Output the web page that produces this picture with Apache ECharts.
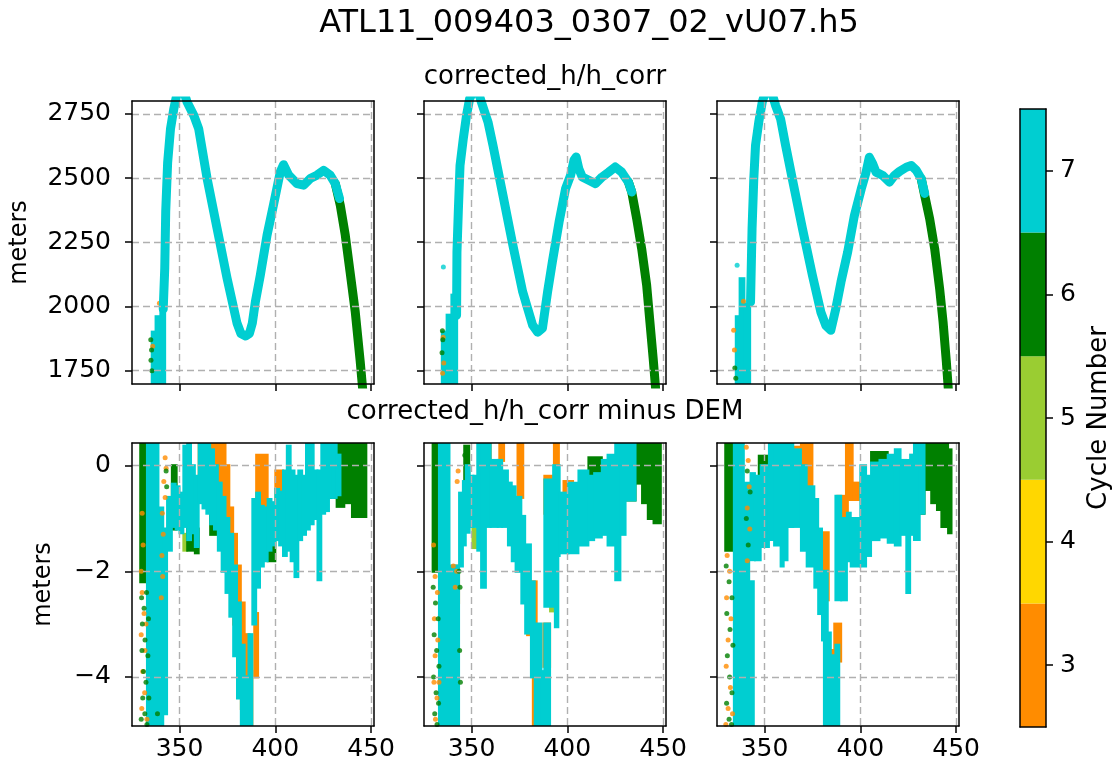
<!DOCTYPE html>
<html><head><meta charset="utf-8">
<script src="https://cdn.jsdelivr.net/npm/echarts@6.0.0/dist/echarts.min.js"></script>
<style>html,body{margin:0;padding:0;background:#fff}#c{width:1117px;height:772px}</style>
</head><body><div id="c"></div><script>
// ---------------- text & ticks ----------------
const figTitle = 'ATL11_009403_0307_02_vU07.h5';
const rowTitles = ['corrected_h/h_corr', 'corrected_h/h_corr minus DEM'];
const yLabel = 'meters';
const cbarLabel = 'Cycle Number';
const cycles = [3, 4, 5, 6, 7];
const xTicks = [350, 400, 450];
const hTicks = [1750, 2000, 2250, 2500, 2750];
const dTicks = [-4, -2, 0];

// ---------------- top row: corrected_h/h_corr (x km, h m) ----------------
const hTrace1C7 = [[341.5,1990],[342.3,2150],[342.8,2370],[343.8,2560],[345.3,2692],[347,2769],[348.6,2825],[350.5,2850],[352.5,2830],[354,2795],[357.5,2743],[360,2692],[364.4,2498],[369.6,2304],[374.8,2110],[380,1935],[382,1895],[384.5,1885],[386.5,1895],[388,1935],[389.6,2019],[392.2,2123],[395.7,2278],[399,2394],[402.6,2524],[404.3,2552],[407,2511],[411.3,2478],[414.8,2472],[418.2,2498],[421.7,2511],[425.2,2530],[428.6,2511],[431.3,2478],[433.5,2420]];
const hTrace1C6 = [[431.3,2478],[433.9,2394],[436.5,2278],[439,2135],[441.7,1980],[444.3,1786],[445.8,1660]];
const hBand1C7 = [[335.5,337.5,1690,1900],[337.5,340,1690,1960],[340,342.5,1690,2010]];
const hDots1C6 = [[335,1870],[335.4,1830],[335.1,1790],[335.6,1750]];
const hDots1C3 = [[339.5,2012],[341,2008],[336,1845]];

const hTrace2C7 = [[342.2,1966],[342.4,2212],[343.1,2368],[344,2549],[345.7,2653],[347.4,2744],[349,2808],[351.5,2850],[353.5,2835],[355.2,2795],[358.6,2718],[361.2,2627],[366.4,2433],[371.6,2238],[376.7,2057],[381.9,1927],[384.5,1900],[387,1915],[389.7,2057],[392.2,2174],[395.7,2329],[399.1,2459],[401.7,2510],[403.5,2570],[404.6,2582],[406,2536],[407.8,2504],[411.2,2491],[414.7,2478],[418.1,2504],[421.6,2523],[425,2543],[428.4,2523],[431.9,2484],[433.6,2446]];
const hTrace2C6 = [[431.9,2484],[433.6,2446],[436.2,2342],[438.8,2225],[441.4,2083],[443.1,1940],[444.8,1798],[446.3,1660]];
const hBand2C7 = [[334.5,337,1690,1900],[337,339.5,1690,1966],[339.5,341,1690,2044],[341,342.5,1690,1990]];
const hDots2C7 = [[335.3,2154]];
const hDots2C6 = [[334.8,1905],[335,1870],[334.6,1820]];
const hDots2C3 = [[335.2,1880],[335.5,1780],[334.9,1740]];

const hTrace3C7 = [[342.7,2017],[343.5,2303],[344.4,2497],[345.3,2627],[347,2718],[348.8,2795],[351,2850],[353.5,2840],[355.8,2782],[358.4,2730],[361,2627],[364.5,2497],[369.8,2303],[375,2121],[379.4,1978],[382,1926],[384.6,1907],[387.2,1991],[389.9,2095],[393.4,2212],[396.9,2354],[400.5,2458],[403,2523],[404.7,2581],[406.5,2555],[408.2,2523],[411.7,2510],[415.2,2484],[417.8,2510],[420.5,2526],[424,2542],[426.6,2549],[429.2,2530],[431.8,2497],[433.6,2440]];
const hTrace3C6 = [[431.8,2497],[433.6,2432],[436.2,2341],[438.8,2225],[441.4,2069],[443.2,1939],[444.9,1784],[446.1,1660]];
const hBand3C7 = [[335,337,1690,1960],[337,339.5,1690,2108],[339.5,342.5,1690,2010]];
const hDots3C7 = [[335.7,2160]];
const hDots3C6 = [[334.5,1760],[335,1720]];
const hDots3C3 = [[333.9,1907],[339,2020],[334.3,1830]];

// ---------------- bottom row: minus DEM, rows [x0, x1, low, high] ----------------
const dBand1C7 = [[333,339,-5.2,0.6],[339,341.5,-5.2,-0.8],[341.5,343.5,-4.7,-1.2],[343.5,346,-1.6,-0.6],[346,348,-1.15,-0.35],[348,350,-1.2,-0.4],[350,352,-1.27,-0.52],[352,354,-1.15,0.37],[354,356,-1.4,0.6],[356,358,-1.27,0],[358,360,-1.53,-0.2],[360,362,-0.7,0.6],[362,364,-0.8,0.6],[364,366,-0.9,0.6],[366,368,-1.1,0.3],[368,370,-1.2,0],[370,372,-1.6,-0.33],[372,374,-2.0,-0.6],[374,376,-2.4,-1.0],[376,378,-2.85,-1.3],[378,380,-3.6,-1.9],[380,382,-4.4,-2.6],[382,384,-5.2,-3.4],[384,386,-5.2,-4.0],[386,388,-5.2,-3.2],[388,390,-3.0,-0.64],[390,392,-2.3,-0.52],[392,394,-1.9,-0.77],[394,396,-1.8,-0.8],[396,398,-1.6,-0.64],[398,400,-1.5,-0.7],[400,402,-1.4,-0.45],[402,404,-1.5,-0.5],[404,406,-1.7,-0.1],[406,408,-1.6,0.37],[408,410,-1.8,-0.1],[410,412,-2.1,-0.2],[412,414,-1.4,-0.1],[414,416,-1.3,-0.2],[416,418,-1.2,0.6],[418,420,-1.1,0.6],[420,422,-1.0,-0.1],[422,424,-2.16,-0.1],[424,426,-0.9,0.6],[426,428,-0.85,0.6],[428,430,-0.6,0.6],[430,432,-0.6,0.6],[432,434,-0.55,0.2]];
const dBand1C6 = [[329.5,333.5,-2.2,0.6],[346,348.5,-1.2,0.0],[354,358,-1.6,-1.0],[358,360,-1.65,-1.2],[366,370,-1.3,-0.9],[396,400,-1.8,-1.2],[428,432,-0.6,0.6],[432,436,-0.77,0.6],[436,440,-0.7,0.6],[440,444,-0.96,0.6],[444,447.5,-0.96,0.6]];
const dBand1C5 = [[352,354,-1.6,-1.3]];
const dBand1C3 = [[360,364,-0.3,0.6],[364,370,-0.6,0.6],[370,374,-1.0,0.6],[374,376,-1.6,0.0],[376,378,-2.2,-0.8],[378,380,-3.0,-1.3],[380,382,-3.8,-1.9],[382,384,-4.6,-2.6],[384,386.5,-5.2,-3.2],[386.5,388,-5.2,-3.9],[389,391,-4.0,-2.8],[390,396,-1.5,0.2],[400,404,-0.9,-0.1]];
const dDots1C6 = [[330.2,-2.5],[331.5,-2.7],[332.8,-2.4],[330.6,-3.0],[332,-3.3],[333.5,-3.6],[330.4,-3.5],[331.2,-3.9],[332.5,-4.1],[330.8,-4.4],[331.9,-4.7],[333,-4.9],[330,-4.8],[334,-4.4],[333.8,-2.9],[343.3,-0.4],[343,-0.1],[338.5,-4.7]];
const dDots1C3 = [[342.5,0.15],[343,-0.05],[341.8,-0.3],[342.5,-0.6],[341,-0.9],[341.5,-1.3],[340.8,-1.7],[341.2,-2.1],[340.5,-2.5],[330.5,-2.4],[331.5,-2.8],[330,-3.2],[332,-3.5],[330.8,-3.9],[331.8,-4.3],[330.3,-4.6],[333,-4.8],[332.5,-3.0],[330,-2.0],[331,-1.5],[330.5,-0.9]];

const dBand2C7 = [[333,338.5,-5.2,0.6],[338.5,343.5,-5.2,-1.9],[343.5,345.5,-1.9,-0.52],[345.5,347,-1.5,-0.3],[347,349,-1.26,0],[349,351,-1.15,-0.2],[351,353,-1.15,-0.2],[353,355,-1.6,0.6],[355,357.5,-2.3,0.6],[357.5,360,-1.15,0.6],[360,363.7,-1.15,0.1],[363.7,366,-1.15,0.1],[366,369,-1.15,-0.1],[369,371,-1.5,-0.33],[371,373,-1.8,-0.4],[373,376,-2.0,-0.6],[376,378,-2.6,-0.96],[378,381,-3.17,-1.5],[381,383,-4.0,-2.2],[383,386.5,-5.2,-3.0],[386.5,388,-5.2,-3.9],[388,391,-5.2,-3.0],[388,392.6,-2.66,-0.27],[392.6,396,-1.7,0],[393.5,395.3,-3.05,-1.0],[396,400.5,-1.65,-0.52],[400.5,405.8,-1.65,-0.33],[405.8,411,-1.5,-0.1],[411,414,-1.4,-0.2],[414,418,-1.35,-0.15],[418,421,-1.3,0.1],[421,425,-1.5,0.2],[425,427.7,-2.16,0.6],[427.7,430.4,-1.3,0.6],[430.4,435.6,-0.65,0.6]];
const dBand2C6 = [[329.7,333.2,-2.0,0.6],[346.2,348.8,-0.5,0.37],[411,418,-0.2,0.15],[430.4,435.6,-0.65,0.6],[435.6,439,-0.33,0.6],[439,442,-0.7,0.6],[442,445,-1.0,0.6],[445,448.8,-1.08,0.6]];
const dBand2C5 = [[350.5,353,-1.55,-1.2],[391,393,-2.75,-2.6]];
const dBand2C3 = [[340,343.5,-2.6,-1.9],[357.5,360,-0.3,0.6],[364.5,367,0.1,0.6],[374,377,-0.6,0.6],[379,384,-3.2,-2.2],[382,386,-5.0,-3.2],[387.5,391,-3.8,-3.0],[388,392.6,-0.9,-0.2],[393,395.6,-0.1,0.6],[398,403,-0.65,-0.3]];
const dDots2C6 = [[330,-2.3],[331.2,-2.6],[332.6,-2.9],[330.5,-3.2],[331.8,-3.5],[333,-3.8],[330.2,-4.0],[331.5,-4.3],[332.8,-4.5],[330.8,-4.7],[332,-4.9],[343.5,-2.0],[344,-2.3],[343.8,-3.5],[344.2,-4.1],[346.5,0.2]];
const dDots2C3 = [[330.2,-1.5],[331,-2.1],[332.2,-2.4],[330.6,-2.9],[332.4,-3.3],[331,-3.6],[330.4,-4.1],[332,-4.4],[331.2,-4.8],[333,-4.1],[340.5,-1.9],[341.5,-2.3],[342.2,-2.0],[342.5,-0.3],[343,-0.1]];

const dBand3C7 = [[334,339.2,-5.2,0.6],[339.2,344.4,-5.2,-2.2],[339.2,342,-2.2,-0.33],[342.7,345,-1.78,-0.15],[345,348,-1.78,-0.2],[348,350,-1.53,0],[350,352.3,-1.53,0],[352.3,355,-1.4,0.6],[355,358.4,-1.5,0.6],[358.4,360,-1.9,0.6],[360,362,-1.78,0.6],[362,365,-1.15,0.6],[365,369,-1.15,0.3],[369,372,-1.6,0],[372,376,-1.9,-0.4],[376,378,-2.3,-0.64],[378,380,-2.8,-1.2],[380,383,-3.3,-2.0],[381,384.6,-5.2,-3.17],[384.6,387,-5.2,-3.6],[387,389,-5.2,-3.4],[387,390,-2.54,-0.58],[390,393,-2.54,-1.0],[393,395,-1.8,-0.9],[395,400,-1.9,-1.0],[400,403,-1.9,0],[403,405.6,-1.7,-0.2],[405.6,410,-1.4,0.05],[410,414.3,-1.35,0.1],[414.3,418,-1.45,0.2],[418,421,-1.5,0.3],[421,424,-1.3,0.1],[424,426,-2.4,0.1],[426,428,-1.3,0.2],[428,431,-1.4,0.4],[431,433.5,-0.9,0.6]];
const dBand3C6 = [[329.5,334,-1.6,0.6],[347,352,-0.15,0.18],[405.6,414.3,0.05,0.25],[431,433.5,-0.9,0.6],[433.5,437,-0.45,0.6],[437,440,-0.7,0.6],[440,442.3,-0.83,0.6],[442.3,445.8,-1.15,0.6],[445.8,447.6,-1.27,0.3]];
const dBand3C3 = [[365,374,-0.3,0.35],[369,375,-0.64,0.4],[379,383.5,-2.54,-1.27],[384.5,387,-4.4,-3.5],[386.4,390,-3.7,-3.0],[388,393.5,-1.15,-0.58],[392.5,396,-0.64,0.43],[396.5,402,-0.64,-0.33]];
const dDots3C6 = [[330,-1.9],[331.5,-2.2],[333,-2.5],[330.3,-2.8],[332,-3.1],[333.5,-3.4],[330.6,-3.6],[331.8,-4.0],[333,-4.3],[330.2,-4.5],[331.5,-4.8],[332.8,-4.9],[341,-0.1],[342.5,-0.5],[340.5,-1.0],[341.5,-1.5]];
const dDots3C3 = [[330.5,-1.7],[331.8,-2.0],[330.2,-2.5],[332.5,-2.9],[331,-3.3],[330,-3.8],[332.2,-4.2],[331,-4.6],[333.3,-4.7],[329.8,-4.9],[340.5,0.35],[341.5,0.1],[342,-0.4],[341,-0.8],[342.3,-1.2],[341,-1.8]];

// ---------------- styling (not data) ----------------
const FONT = 'DejaVu Sans';
const cycleColor = {3: '#ff8c00', 4: '#ffd700', 5: '#9acd32', 6: '#008000', 7: '#00ced1'};
const xRange = [325.2, 451.5];
const hRange = [1698, 2800];
const dRange = [-4.93, 0.43];
const gridLefts = [132, 424, 717];
const gridTops = [101, 443];
const GW = 242, GH = 283;
const TICK_FS = 25;
const fmt = v => (v < 0 ? '\u2212' + Math.abs(v) : String(v));

const panels = [
  {lines: {7: hTrace1C7, 6: hTrace1C6}, bands: {7: hBand1C7}, dots: {3: hDots1C3, 6: hDots1C6}},
  {lines: {7: hTrace2C7, 6: hTrace2C6}, bands: {7: hBand2C7}, dots: {3: hDots2C3, 6: hDots2C6, 7: hDots2C7}},
  {lines: {7: hTrace3C7, 6: hTrace3C6}, bands: {7: hBand3C7}, dots: {3: hDots3C3, 6: hDots3C6, 7: hDots3C7}},
  {lines: {}, bands: {3: dBand1C3, 5: dBand1C5, 6: dBand1C6, 7: dBand1C7}, dots: {3: dDots1C3, 6: dDots1C6}},
  {lines: {}, bands: {3: dBand2C3, 5: dBand2C5, 6: dBand2C6, 7: dBand2C7}, dots: {3: dDots2C3, 6: dDots2C6}},
  {lines: {}, bands: {3: dBand3C3, 6: dBand3C6, 7: dBand3C7}, dots: {3: dDots3C3, 6: dDots3C6}}
];

const grid = [], xAxis = [], yAxis = [], series = [];
const lineCol = '#000';
const splitLine = {show: true, lineStyle: {color: '#b0b0b0', width: 1.4, type: [7, 4]}};
const noAxisDeco = {axisTick: {show: false}, axisLabel: {show: false}, splitLine: {show: false}};
const spine = {show: true, onZero: false, lineStyle: {color: lineCol, width: 1.5}};

for (let i = 0; i < 6; i++) {
  const r = Math.floor(i / 3), c = i % 3;
  grid.push({left: gridLefts[c], top: gridTops[r], width: GW, height: GH, containLabel: false});
}
// main axes
for (let i = 0; i < 6; i++) {
  const r = Math.floor(i / 3), c = i % 3;
  xAxis.push({gridIndex: i, type: 'value', position: 'bottom', min: xRange[0], max: xRange[1], z: 5,
    axisLine: spine,
    axisTick: {show: true, customValues: xTicks, length: 7, lineStyle: {color: lineCol, width: 1.5}},
    axisLabel: {show: r === 1, customValues: xTicks, fontFamily: FONT, fontSize: TICK_FS, color: '#000', margin: 11},
    splitLine: splitLine});
  yAxis.push({gridIndex: i, type: 'value', position: 'left', min: r === 0 ? hRange[0] : dRange[0], max: r === 0 ? hRange[1] : dRange[1], z: 5,
    axisLine: spine,
    axisTick: {show: true, customValues: r === 0 ? hTicks : dTicks, length: 7, lineStyle: {color: lineCol, width: 1.5}},
    axisLabel: {show: c === 0, customValues: r === 0 ? hTicks : dTicks, formatter: fmt, fontFamily: FONT, fontSize: TICK_FS, color: '#000', margin: 21},
    splitLine: splitLine,
    name: c === 0 ? yLabel : '', nameLocation: 'middle', nameRotate: 90, nameGap: r === 0 ? 100 : 76,
    nameTextStyle: {fontFamily: FONT, fontSize: 24, color: '#000'}});
}
// frame axes (top / right spines)
for (let i = 0; i < 6; i++) {
  const r = Math.floor(i / 3);
  xAxis.push(Object.assign({gridIndex: i, type: 'value', position: 'top', min: xRange[0], max: xRange[1], z: 5, axisLine: spine}, noAxisDeco));
  yAxis.push(Object.assign({gridIndex: i, type: 'value', position: 'right', min: r === 0 ? hRange[0] : dRange[0], max: r === 0 ? hRange[1] : dRange[1], z: 5, axisLine: spine}, noAxisDeco));
}
// colorbar grid (index 6)
grid.push({left: 1020, top: 109, width: 26, height: 618});
xAxis.push(Object.assign({gridIndex: 6, type: 'value', min: 0, max: 1, position: 'bottom', z: 5, axisLine: spine}, noAxisDeco));
xAxis.push(Object.assign({gridIndex: 6, type: 'value', min: 0, max: 1, position: 'top', z: 5, axisLine: spine}, noAxisDeco));
yAxis.push({gridIndex: 6, type: 'value', min: cycles[0] - 0.5, max: cycles[cycles.length - 1] + 0.5, position: 'right', z: 5,
  axisLine: spine,
  axisTick: {show: true, customValues: cycles, length: 7, lineStyle: {color: lineCol, width: 1.5}},
  axisLabel: {show: true, customValues: cycles, fontFamily: FONT, fontSize: TICK_FS, color: '#000', margin: 14},
  splitLine: {show: false},
  name: cbarLabel, nameLocation: 'middle', nameRotate: 90, nameGap: 40,
  nameTextStyle: {fontFamily: FONT, fontSize: 26, color: '#000'}});
yAxis.push(Object.assign({gridIndex: 6, type: 'value', min: cycles[0] - 0.5, max: cycles[cycles.length - 1] + 0.5, position: 'left', z: 5, axisLine: spine}, noAxisDeco));

function bandSeries(i, rows, color) {
  return {type: 'custom', xAxisIndex: i, yAxisIndex: i, data: rows, clip: true, silent: true, animation: false,
    encode: {x: [0, 1], y: [2, 3]},
    renderItem: function (params, api) {
      const a = api.coord([api.value(0), api.value(3)]);
      const b = api.coord([api.value(1), api.value(2)]);
      return {type: 'rect', shape: {x: a[0] - 1, y: a[1] - 1.5, width: b[0] - a[0] + 2, height: b[1] - a[1] + 3},
        style: {fill: color, stroke: null, lineWidth: 0}};
    }};
}

panels.forEach((p, i) => {
  cycles.forEach(cy => {
    const col = cycleColor[cy];
    if (p.bands[cy]) series.push(bandSeries(i, p.bands[cy], col));
    if (p.lines[cy]) series.push({type: 'line', xAxisIndex: i, yAxisIndex: i, data: p.lines[cy], symbol: 'none', clip: true, silent: true, animation: false,
      lineStyle: {color: col, width: 9, cap: 'round', join: 'round'}});
    if (p.dots[cy]) series.push({type: 'scatter', xAxisIndex: i, yAxisIndex: i, data: p.dots[cy], symbol: 'circle', symbolSize: 5, clip: true, silent: true, animation: false,
      itemStyle: {color: col}});
  });
});

// colorbar blocks
series.push({type: 'custom', xAxisIndex: 12, yAxisIndex: 12, data: cycles, silent: true, animation: false,
  encode: {y: 0},
  renderItem: function (params, api) {
    const cy = api.value(0);
    const a = api.coord([0, cy + 0.5]);
    const b = api.coord([1, cy - 0.5]);
    return {type: 'rect', shape: {x: a[0], y: a[1], width: b[0] - a[0], height: b[1] - a[1]}, style: {fill: cycleColor[cy], stroke: null}};
  }});

const option = {
  backgroundColor: '#fff',
  animation: false,
  title: [
    {text: figTitle, left: 589, top: 8, textAlign: 'center', padding: 0, textStyle: {fontFamily: FONT, fontSize: 32, fontWeight: 'normal', color: '#000'}},
    {text: rowTitles[0], left: 545, top: 64, textAlign: 'center', padding: 0, textStyle: {fontFamily: FONT, fontSize: 26, fontWeight: 'normal', color: '#000'}},
    {text: rowTitles[1], left: 545, top: 399, textAlign: 'center', padding: 0, textStyle: {fontFamily: FONT, fontSize: 26, fontWeight: 'normal', color: '#000'}}
  ],
  grid: grid, xAxis: xAxis, yAxis: yAxis, series: series
};
const chart = echarts.init(document.getElementById('c'), null, {renderer: 'canvas'});
chart.setOption(option);
</script></body></html>
